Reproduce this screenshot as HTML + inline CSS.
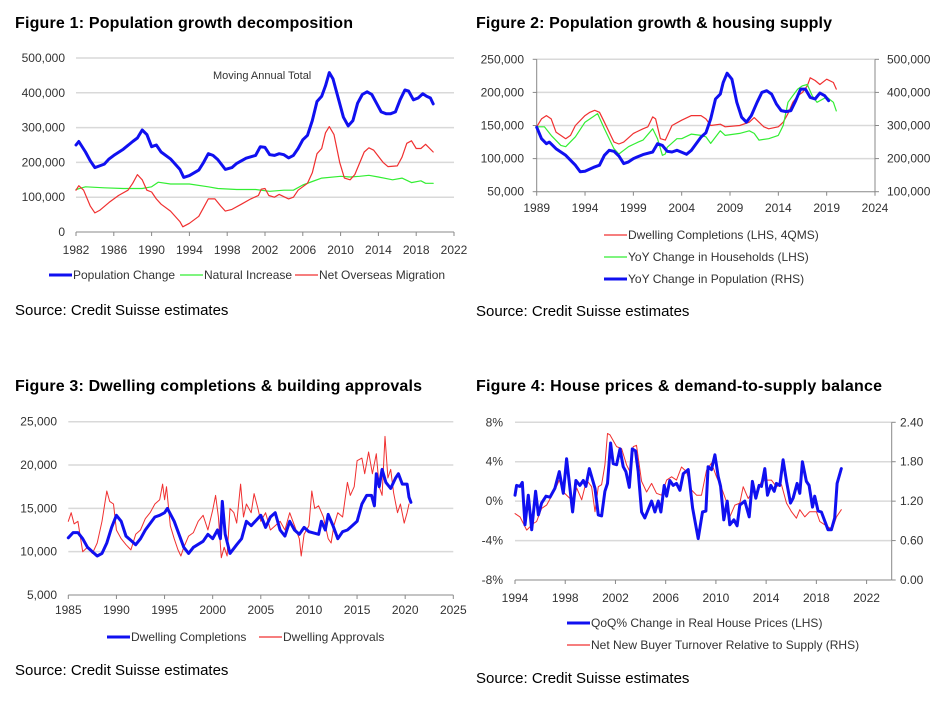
<!DOCTYPE html>
<html><head><meta charset="utf-8"><style>
body{margin:0;background:#fff;}
svg{display:block;font-family:"Liberation Sans",Arial,sans-serif;}
</style></head><body>
<svg id="root" width="945" height="701" viewBox="0 0 945 701" xmlns="http://www.w3.org/2000/svg">
<text x="15" y="28" font-size="16" font-weight="bold" textLength="338">Figure 1: Population growth decomposition</text>
<text x="476" y="28" font-size="16" font-weight="bold" textLength="356">Figure 2: Population growth &amp; housing supply</text>
<text x="15" y="391" font-size="16" font-weight="bold" textLength="407">Figure 3: Dwelling completions &amp; building approvals</text>
<text x="476" y="391" font-size="16" font-weight="bold" textLength="406">Figure 4: House prices &amp; demand-to-supply balance</text>
<text x="15" y="315" font-size="15">Source: Credit Suisse estimates</text>
<text x="476" y="316" font-size="15">Source: Credit Suisse estimates</text>
<text x="15" y="675" font-size="15">Source: Credit Suisse estimates</text>
<text x="476" y="683" font-size="15">Source: Credit Suisse estimates</text>
<text x="213" y="79" font-size="11" fill="#333">Moving Annual Total</text>
</svg>
<script>
// ---- Figure 1 data (thousands) ----
const f1PopYears=[1982,1982.3,1983,1983.5,1984,1985,1985.5,1986,1987,1988,1988.5,1989,1989.5,1990,1990.5,1991,1992,1993,1993.4,1994,1994.5,1995,1995.5,1996,1996.5,1997,1997.8,1998.5,1999,2000,2001,2001.5,2002,2002.5,2003,2003.5,2004,2004.5,2005,2005.5,2006,2006.5,2007,2007.5,2008,2008.4,2008.8,2009.2,2009.8,2010.3,2010.8,2011.3,2011.8,2012.3,2012.8,2013.3,2013.8,2014.3,2014.8,2015.3,2015.8,2016.3,2016.8,2017.2,2017.7,2018.2,2018.7,2019.1,2019.5,2019.8];
const f1PopVals=[250,260,230,205,185,195,210,220,238,260,270,293,280,245,250,230,210,180,157,162,170,178,200,225,220,208,180,185,197,212,220,245,243,222,220,225,222,213,220,240,265,278,320,375,390,420,458,440,380,330,305,320,370,395,403,395,370,345,340,340,345,380,408,405,380,385,397,390,385,368];
const f1NatYears=[1982,1983,1985,1987,1989,1990,1990.7,1992,1994,1996,1997,1999,2001,2002.5,2004,2005,2006,2007,2008,2010,2011,2012,2013,2014,2015.5,2016.5,2017.5,2018.5,2019,2019.8];
const f1NatVals=[122,130,127,125,125,130,143,138,138,130,125,122,122,117,120,120,135,145,155,160,158,160,163,158,150,155,142,147,140,140];
const f1NomYears=[1982,1982.3,1982.8,1983.5,1984,1984.5,1985.5,1986.5,1987.5,1988,1988.5,1989,1989.5,1990,1990.5,1991,1992,1993,1993.3,1994,1995,1995.5,1996,1996.7,1997.3,1997.8,1998.5,1999.5,2000.5,2001.3,2001.6,2002,2002.4,2003,2003.5,2004.5,2005,2005.5,2006.5,2007,2007.5,2008,2008.4,2008.8,2009.3,2009.9,2010.4,2011,2011.5,2012.5,2013,2013.5,2014.5,2015,2016,2016.5,2017,2017.5,2018,2018.5,2019,2019.8];
const f1NomVals=[120,133,120,75,55,62,85,105,120,140,165,150,120,115,95,80,60,30,15,25,45,70,95,95,75,60,65,80,95,105,123,125,105,100,108,95,100,120,140,170,225,240,285,303,280,200,155,150,165,230,242,235,200,188,190,215,255,262,240,240,252,230];
const f1Ticks=[0,100,200,300,400,500];
const f1TickLabels=["0","100,000","200,000","300,000","400,000","500,000"];
const f1XTicks=[1982,1986,1990,1994,1998,2002,2006,2010,2014,2018,2022];

// ---- Figure 2 data (thousands) ----
const f2CompYears=[1989,1989.5,1990,1990.5,1991,1992,1992.5,1993,1994,1994.5,1995,1995.5,1996,1997,1997.5,1998,1999,2000,2000.5,2001,2001.3,2001.8,2002.3,2003,2004,2005,2006,2006.5,2007,2008,2008.5,2010,2011,2011.5,2012.5,2013,2014,2014.5,2015,2015.5,2016,2016.5,2017,2017.3,2017.8,2018.3,2019,2019.7,2020];
const f2CompVals=[148,160,165,160,140,130,135,150,165,170,173,170,155,125,122,125,138,145,148,163,160,130,128,150,158,165,165,160,150,152,148,150,155,162,148,145,148,155,168,185,195,200,210,222,218,212,220,215,205];
const f2HhYears=[1989,1989.8,1990.5,1991.5,1992,1993,1994,1995,1995.3,1996,1997,1997.5,1998.5,1999.5,2000,2001,2001.5,2002,2002.3,2002.5,2003.5,2004,2005,2006,2006.5,2007,2008,2008.5,2010,2011,2011.5,2012,2013,2014,2014.5,2015,2015.5,2016,2016.5,2017,2017.5,2018,2019,2019.7,2020];
const f2HhVals=[148,148,135,120,118,133,155,165,168,145,115,107,118,125,128,145,130,105,107,117,130,130,137,135,133,123,142,135,138,142,138,128,130,135,150,185,195,205,210,212,195,185,193,185,172];
const f2PopYears=[1989,1989.5,1990,1990.3,1991,1992,1993,1993.5,1994,1995,1995.5,1996,1996.5,1997,1997.5,1998,1998.5,1999,2000,2001,2001.5,2002,2002.5,2003,2003.5,2004.5,2005,2006,2006.5,2007,2007.5,2008,2008.3,2008.7,2009.2,2009.7,2010.2,2010.7,2011.2,2011.8,2012.3,2012.8,2013.3,2013.8,2014.3,2014.8,2015.3,2015.8,2016.3,2016.8,2017.3,2017.8,2018.3,2018.8,2019.2];
const f2PopVals=[295,260,245,250,230,210,180,160,162,175,180,210,225,222,208,185,190,200,212,220,245,240,222,220,225,213,225,265,278,320,380,395,430,458,440,370,325,310,330,370,400,405,395,365,345,342,345,375,410,410,385,380,398,390,375];
const f2LTicks=[50,100,150,200,250];
const f2LTickLabels=["50,000","100,000","150,000","200,000","250,000"];
const f2RTickLabels=["100,000","200,000","300,000","400,000","500,000"];
const f2XTicks=[1989,1994,1999,2004,2009,2014,2019,2024];

// ---- Figure 3 data (thousands) ----
const f3CompYears=[1985,1985.5,1986,1986.5,1987,1987.5,1988,1988.5,1989,1989.5,1990,1990.5,1991,1991.5,1992,1992.5,1993,1994,1994.5,1995,1995.3,1996,1996.5,1997,1997.5,1998,1999,1999.5,2000,2000.5,2000.8,2001,2001.3,2001.8,2002.5,2003,2003.5,2004,2005,2005.5,2006,2006.5,2007,2007.5,2008,2008.5,2009,2009.5,2010,2011,2011.3,2011.7,2012,2012.5,2013,2013.5,2014,2014.5,2015,2015.5,2016,2016.5,2016.8,2017,2017.3,2017.6,2018,2018.5,2019,2019.3,2019.7,2020.2,2020.4,2020.6];
const f3CompVals=[11.6,12.2,12.2,11.5,10.5,10.0,9.5,9.8,11,12.8,14.2,13.5,11.8,11.3,10.8,11.5,12.5,14.0,14.2,14.5,15.0,13.5,12.0,10.5,9.8,10.5,11.2,12.0,11.5,12.5,11.5,15.8,12,9.8,10.8,11.5,13.5,13.0,14.2,12.8,14.0,14.5,12.5,11.8,13.5,12.5,12.0,12.8,12.3,12.0,13.5,12.5,14.3,13,11.5,12.3,12.5,13.0,13.5,15.5,16.5,16.5,15.3,19.0,17.5,19.5,18.0,17.3,18.5,19.0,17.8,17.8,16.3,15.7];
const f3AppYears=[1985,1985.3,1985.6,1986,1986.5,1987,1987.5,1988,1988.5,1989,1989.3,1989.7,1990,1990.5,1991,1991.5,1992,1992.5,1993,1993.5,1994,1994.5,1994.8,1995,1995.2,1995.6,1996,1996.4,1996.7,1997,1997.5,1998,1998.5,1999,1999.5,2000,2000.3,2000.6,2000.9,2001.2,2001.5,2001.8,2002.2,2002.5,2002.9,2003.2,2003.5,2004,2004.3,2004.7,2005,2005.5,2006,2006.5,2007,2007.5,2008,2008.5,2009,2009.2,2009.5,2010,2010.3,2010.6,2011,2011.5,2012,2012.3,2012.6,2013,2013.5,2014,2014.3,2014.7,2015,2015.5,2015.8,2016.2,2016.6,2017,2017.3,2017.6,2017.9,2018.2,2018.5,2018.8,2019.2,2019.5,2019.9,2020.2,2020.4];
const f3AppVals=[13.5,14.5,13.2,13.5,10,10.5,9.8,11,13.5,17.0,15.8,15.5,12.5,11.5,10.8,10.2,12,12.5,13.8,14.5,15.5,16,17.8,16,17.5,13,11.5,10.2,9.5,10.5,11.8,12.2,13.5,14.2,12.5,14.8,16.5,14,9.3,10.5,9.5,15,14.5,13.3,17.8,14,15.5,14.5,16.7,15,13.5,14.5,12.5,13,13.5,12.5,14.5,13,11.5,9.5,12,13,17,15,15.3,14,11.5,11,13,14.5,14,18,16.5,17.5,20.5,20.8,19,21.5,19,21.3,17.5,16.5,23.3,18.5,19.5,16.8,14.5,15.5,13.3,14.5,15.5];
const f3Ticks=[5,10,15,20,25];
const f3TickLabels=["5,000","10,000","15,000","20,000","25,000"];
const f3XTicks=[1985,1990,1995,2000,2005,2010,2015,2020,2025];

// ---- Figure 4 data ----
const f4PriceYears=[1994,1994.13,1994.4,1994.58,1994.8,1995.06,1995.33,1995.64,1995.86,1996.12,1996.47,1996.79,1997.18,1997.53,1997.85,1998.11,1998.59,1998.85,1999.17,1999.44,1999.65,1999.92,2000.37,2000.63,2000.9,2001.16,2001.37,2001.61,2001.82,2002.09,2002.36,2002.62,2002.83,2003.1,2003.34,2003.6,2003.81,2004.08,2004.34,2004.88,2005.14,2005.41,2005.62,2005.88,2006.07,2006.33,2006.6,2006.86,2007.13,2007.4,2007.79,2008.14,2008.59,2008.93,2009.2,2009.38,2009.65,2009.92,2010.18,2010.37,2010.63,2010.9,2011.11,2011.43,2011.69,2011.9,2012.3,2012.65,2012.91,2013.18,2013.44,2013.63,2013.89,2014.11,2014.37,2014.64,2014.82,2015.09,2015.35,2015.62,2015.94,2016.15,2016.47,2016.68,2016.89,2017.21,2017.42,2017.69,2017.87,2018.14,2018.4,2018.93,2019.2,2019.46,2019.65,2019.99];
const f4PriceVals=[0.6,1.6,1.5,1.9,-2.4,0.6,-2.9,1.0,-1.4,-0.2,0.5,0.4,1.3,3.0,0.8,4.3,-1.1,2.1,1.6,2.1,1.5,3.3,1.3,-1.4,-1.5,1.0,1.8,5.9,3.8,3.7,5.3,3.5,3.0,1.4,5.3,5.1,3.0,-1.1,-1.7,0.0,-1.1,0,-1.1,1.6,0.5,2.1,1.6,1.8,1.1,2.8,3.2,-0.7,-3.8,-1.1,-1.0,3.5,3.2,4.7,2.5,1.5,-1.9,0,-2.4,-1.9,-2.5,-0.4,0,-1.6,2.0,0.3,1.6,1.5,3.3,0.6,1.6,1.0,1.8,1.6,4.2,2.0,-0.2,0.3,1.8,0.8,4.0,2.0,1.6,-0.6,0.5,-1.0,-1.1,-2.9,-2.9,-1.7,1.8,3.3];
const f4TurnYears=[1994,1994.4,1994.93,1995.46,1995.72,1996.12,1996.52,1997.18,1997.53,1997.85,1998.38,1998.64,1998.91,1999.31,1999.7,2000.1,2000.37,2000.63,2000.9,2001.16,2001.37,2001.56,2002.09,2002.49,2002.89,2003.15,2003.42,2003.68,2004.08,2004.48,2004.88,2005.27,2005.67,2006.07,2006.47,2006.86,2007.26,2007.66,2008.06,2008.46,2008.85,2009.25,2009.65,2010.05,2010.45,2010.84,2011.11,2011.51,2011.9,2012.17,2012.57,2012.91,2013.23,2013.63,2014.03,2014.42,2014.82,2015.22,2015.62,2016.02,2016.41,2016.68,2017.08,2017.47,2018.0,2018.27,2018.67,2019.07,2019.33,2019.6,2019.99];
const f4TurnVals=[1.01,0.96,0.76,0.86,0.89,1.09,1.14,1.37,1.52,1.34,1.24,1.22,1.40,1.22,1.52,1.42,1.04,1.42,1.45,1.75,2.23,2.21,2.03,2.00,1.75,1.65,2.03,2.05,1.50,1.34,1.47,1.32,1.29,1.52,1.57,1.52,1.72,1.65,1.37,1.29,1.29,1.67,1.78,1.57,1.40,1.19,0.96,1.14,1.17,1.42,1.24,1.34,1.34,1.50,1.52,1.52,1.42,1.45,1.17,1.04,0.94,1.07,0.96,1.04,1.04,0.89,0.84,0.79,0.81,0.96,1.07];
const f4LTicks=[-8,-4,0,4,8];
const f4LTickLabels=["-8%","-4%","0%","4%","8%"];
const f4RTickLabels=["0.00","0.60","1.20","1.80","2.40"];
const f4XTicks=[1994,1998,2002,2006,2010,2014,2018,2022];

const NS="http://www.w3.org/2000/svg";
const root=document.getElementById('root');
function mk(tag,attrs,parent){const e=document.createElementNS(NS,tag);for(const k in attrs)e.setAttribute(k,attrs[k]);(parent||root).appendChild(e);return e;}
function lin(d0,d1,r0,r1){return v=>r0+(v-d0)*(r1-r0)/(d1-d0);}
function gridAndAxes(g,o){
  o.yTicks.forEach((t,i)=>{
    const y=o.ys(t);
    if(i>0){const l=mk('line',{x1:o.x0,x2:o.x1,y1:y,y2:y,stroke:'#d9d9d9','stroke-width':1.5},g);
      
      }
    const tx=mk('text',{x:o.lx,y:y+4,'font-size':12,fill:'#333','text-anchor':'end'},g);
    tx.textContent=o.yLabels[i];
    
    
    if(o.rLabels){const r=mk('text',{x:o.rx,y:y+4,'font-size':12,fill:'#333'},g);r.textContent=o.rLabels[i];
      
      }
  });
  const yb=o.ys(o.yTicks[0]);
  const ax=mk('line',{x1:o.x0,x2:o.x1,y1:yb,y2:yb,stroke:'#888','stroke-width':1},g);
  
  
  o.xTicks.forEach(t=>{const x=o.xs(t);
    mk('line',{x1:x,x2:x,y1:yb,y2:yb+4,stroke:'#888'},g);
    const tx=mk('text',{x:x,y:o.xly,'font-size':12,fill:'#333','text-anchor':'middle'},g);
    tx.textContent=t;
    
    });
  if(o.rAxis){const ra=mk('line',{x1:o.x1,x2:o.x1,y1:o.ys(o.yTicks[o.yTicks.length-1]),y2:yb,stroke:'#888'},g);
    
    
    o.yTicks.forEach(t=>mk('line',{x1:o.x1,x2:o.x1+4,y1:o.ys(t),y2:o.ys(t),stroke:'#888'},g));}
  if(o.lAxis){mk('line',{x1:o.x0,x2:o.x0,y1:o.ys(o.yTicks[o.yTicks.length-1]),y2:yb,stroke:'#888'},g);
    o.yTicks.forEach(t=>mk('line',{x1:o.x0-4,x2:o.x0,y1:o.ys(t),y2:o.ys(t),stroke:'#888'},g));}
}
function series(g,xsArr,ysArr,xs,ys,color,w,name){
  const d=xsArr.map((x,i)=>(i?'L':'M')+xs(x).toFixed(1)+','+ys(ysArr[i]).toFixed(1)).join('');
  const p=mk('path',{d:d,fill:'none',stroke:color,'stroke-width':w,'stroke-linejoin':'round','stroke-linecap':'round'},g);
  
  
}
function legend(g,x,y,color,w,label,name){
  mk('line',{x1:x,x2:x+23,y1:y,y2:y,stroke:color,'stroke-width':w},g);
  const t=mk('text',{x:x+24,y:y+4,'font-size':12,fill:'#333'},g);t.textContent=label;
  
  
}
const BLUE='#1010f0',GREEN='#33ee33',RED='#f03030';

// Figure 1
let g=mk('g',{});


let xs=lin(1982,2022,76,454), ys=lin(0,500,232,58);
gridAndAxes(g,{x0:76,x1:454,xs,ys,yTicks:f1Ticks,yLabels:f1TickLabels,lx:65,xTicks:f1XTicks,xly:254});
series(g,f1NatYears,f1NatVals,xs,ys,GREEN,1.2,'natural-increase-line');
series(g,f1NomYears,f1NomVals,xs,ys,RED,1.2,'net-overseas-migration-line');
series(g,f1PopYears,f1PopVals,xs,ys,BLUE,3,'population-change-line');
legend(g,49,275,BLUE,3,'Population Change','legend-population-change');
legend(g,180,275,GREEN,1.2,'Natural Increase','legend-natural-increase');
legend(g,295,275,RED,1.2,'Net Overseas Migration','legend-net-overseas-migration');

// Figure 2
g=mk('g',{});


xs=lin(1989,2024,536.7,875); ys=lin(50,250,191.7,59.3);
const ysR=lin(100,500,191.7,59.3);
gridAndAxes(g,{x0:536.7,x1:875,xs,ys,yTicks:f2LTicks,yLabels:f2LTickLabels,rLabels:f2RTickLabels,lx:524,rx:887,xTicks:f2XTicks,xly:212,rAxis:true,lAxis:true});
series(g,f2CompYears,f2CompVals,xs,ys,RED,1.2,'dwelling-completions-line');
series(g,f2HhYears,f2HhVals,xs,ys,GREEN,1.2,'households-change-line');
series(g,f2PopYears,f2PopVals,xs,ysR,BLUE,3,'population-change-rhs-line');
legend(g,604,235,RED,1.2,'Dwelling Completions (LHS, 4QMS)','legend-dwelling-completions');
legend(g,604,257,GREEN,1.2,'YoY Change in Households (LHS)','legend-households');
legend(g,604,279,BLUE,3,'YoY Change in Population (RHS)','legend-population');

// Figure 3
g=mk('g',{});


xs=lin(1985,2025,68.3,453.3); ys=lin(5,25,595,421.7);
gridAndAxes(g,{x0:68.3,x1:453.3,xs,ys,yTicks:f3Ticks,yLabels:f3TickLabels,lx:57,xTicks:f3XTicks,xly:614});
series(g,f3AppYears,f3AppVals,xs,ys,RED,1,'dwelling-approvals-line');
series(g,f3CompYears,f3CompVals,xs,ys,BLUE,3,'dwelling-completions-line');
legend(g,107,637,BLUE,3,'Dwelling Completions','legend-dwelling-completions');
legend(g,259,637,RED,1.2,'Dwelling Approvals','legend-dwelling-approvals');

// Figure 4
g=mk('g',{});


xs=lin(1994,2024,515,891.7); ys=lin(-8,8,580,422.3);
const ys4R=lin(0,2.4,580,422.3);
gridAndAxes(g,{x0:515,x1:891.7,xs,ys,yTicks:f4LTicks,yLabels:f4LTickLabels,rLabels:f4RTickLabels,lx:503,rx:900,xTicks:f4XTicks,xly:602,rAxis:true});
series(g,f4TurnYears,f4TurnVals,xs,ys4R,RED,1,'buyer-turnover-line');
series(g,f4PriceYears,f4PriceVals,xs,ys,BLUE,3,'house-price-change-line');
legend(g,567,623,BLUE,3,'QoQ% Change in Real House Prices (LHS)','legend-house-prices');
legend(g,567,645,RED,1.2,'Net New Buyer Turnover Relative to Supply (RHS)','legend-buyer-turnover');
</script>
</body></html>
